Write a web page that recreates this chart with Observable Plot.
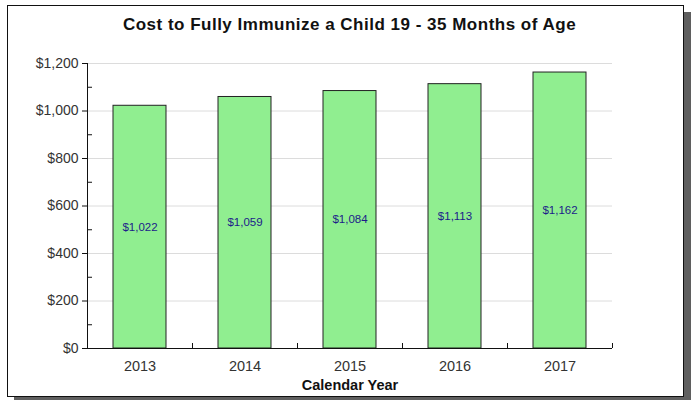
<!DOCTYPE html>
<html>
<head>
<meta charset="utf-8">
<script src="https://cdn.jsdelivr.net/npm/d3@7"></script>
<script src="https://cdn.jsdelivr.net/npm/@observablehq/plot@0.6"></script>
<style>
  body { margin: 0; width: 692px; height: 400px; position: relative; overflow: hidden; background: #fff; font-family: "Liberation Sans", Arial, sans-serif; }
  #frame { position: absolute; left: 7px; top: 5px; width: 675px; height: 390px; border: 1px solid #111; box-shadow: 7px 7px 0 #5f5f5f; background: #fff; }
  #title { position: absolute; left: 7px; width: 685px; top: 14px; text-align: center; font-weight: bold; font-size: 17px; letter-spacing: 0.5px; line-height: 22px; color: #111; }
  #chart { position: absolute; left: 0; top: 40px; }
</style>
</head>
<body>
<div id="frame"></div>
<div id="title">Cost to Fully Immunize a Child 19 - 35 Months of Age</div>
<div id="chart"></div>
<script>
const years = ["2013", "2014", "2015", "2016", "2017"];
const costs = [1022, 1059, 1084, 1113, 1162];
const majorTicks = [0, 200, 400, 600, 800, 1000, 1200];
const minorTicks = [100, 300, 500, 700, 900, 1100];
const xLabel = "Calendar Year";

const data = years.map((y, i) => ({year: y, cost: costs[i]}));
const fmt = d3.format("$,");

const width = 692, height = 360;
const marginLeft = 87, marginRight = 80, marginTop = 23, marginBottom = 52;
const step = (width - marginLeft - marginRight) / years.length;

const chart = Plot.plot({
  width, height, marginLeft, marginRight, marginTop, marginBottom,
  style: {background: "transparent", fontFamily: "'Liberation Sans', Arial, sans-serif", fontSize: "12px", color: "#333"},
  x: {domain: years, paddingInner: 0.5, paddingOuter: 0.25, align: 0.5, label: null},
  y: {domain: [0, 1200], label: null},
  marks: [
    Plot.gridY(majorTicks, {stroke: "#dcdcdc", strokeOpacity: 1}),
    Plot.barY(data, {x: "year", y: "cost", fill: "#90ee90", stroke: "#222", strokeWidth: 1}),
    Plot.text(data, {x: "year", y: d => d.cost / 2, text: d => fmt(d.cost), fill: "#1c1c8a", fontSize: 11.5}),
    Plot.axisY(majorTicks, {tickSize: 5, tickPadding: 4, tickFormat: fmt, label: null, stroke: "#111", fill: "#333", fontSize: 14}),
    Plot.axisY(minorTicks, {tickSize: -5, text: null, label: null, stroke: "#111"}),
    Plot.axisX(years, {tickSize: 0, tickPadding: 12, label: null, fill: "#333", fontSize: 14.5}),
    Plot.axisX(years, {tickSize: -5, text: null, label: null, dx: step / 2, stroke: "#111"}),
    Plot.ruleY([0], {stroke: "#111"}),
    Plot.frame({anchor: "left", stroke: "#111"}),
    Plot.text([xLabel], {frameAnchor: "bottom", dy: 41, fontWeight: "bold", fontSize: 14.5, fill: "#111"})
  ]
});
document.getElementById("chart").appendChild(chart);
</script>
</body>
</html>
